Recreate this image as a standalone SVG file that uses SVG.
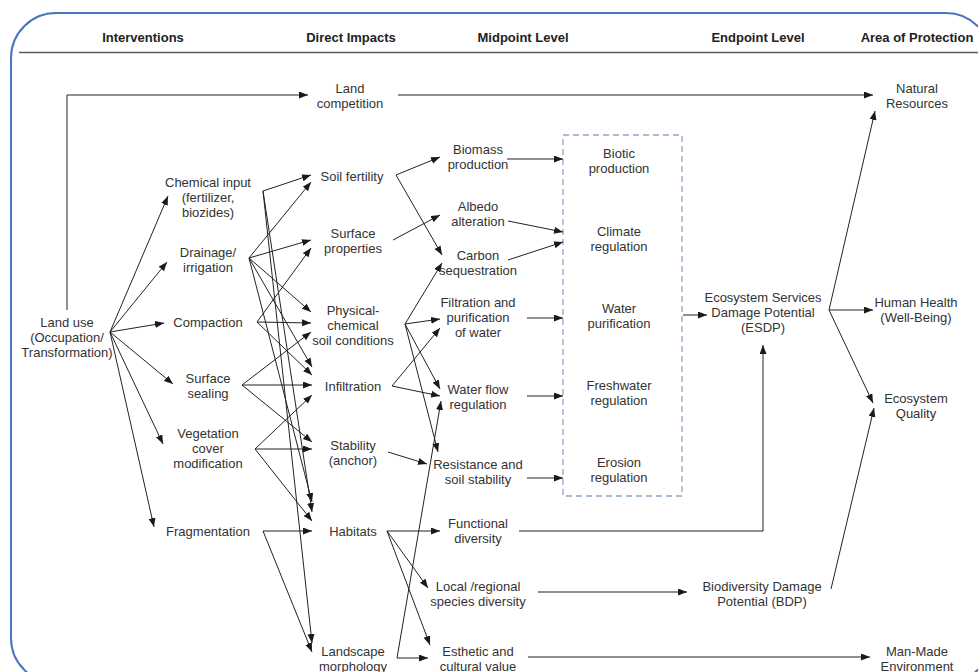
<svg xmlns="http://www.w3.org/2000/svg" width="978" height="672" viewBox="0 0 978 672">
  <defs>
    <marker id="arr" markerUnits="userSpaceOnUse" markerWidth="10" markerHeight="8" refX="9" refY="3.5" orient="auto">
      <path d="M0,0 L9,3.5 L0,7 z" fill="#1a1a1a"/>
    </marker>
    <style>
      text { font-family: "Liberation Sans", Arial, sans-serif; font-size: 13px; fill: #333; text-anchor: middle; }
      .hd { font-weight: bold; fill: #222; }
      .c { fill: none; stroke: #222; stroke-width: 1; marker-end: url(#arr); }
      .p { fill: none; stroke: #222; stroke-width: 1; }
    </style>
  </defs>

  <rect x="0" y="0" width="978" height="672" fill="#fff"/>

  <!-- outer frame and column header -->
  <rect x="11" y="13" width="980" height="670" rx="45" ry="45" fill="none" stroke="#4c72c2" stroke-width="2"/>
  <line x1="19" y1="52.5" x2="978" y2="52.5" stroke="#5a5a5a" stroke-width="1.6"/>
  <g id="headers">
    <text class="hd" x="143" y="42">Interventions</text>
    <text class="hd" x="351" y="42">Direct Impacts</text>
    <text class="hd" x="523" y="42">Midpoint Level</text>
    <text class="hd" x="758" y="42">Endpoint Level</text>
    <text class="hd" x="917" y="42">Area of Protection</text>
  </g>

  <!-- ecosystem services group box -->
  <rect id="es-box" x="563" y="135" width="119" height="361" fill="none" stroke="#8ea6c4" stroke-width="1.3" stroke-dasharray="6 4"/>

  <g id="connectors">
    <!-- land use -->
    <path class="c" d="M67,310 V95 H308"/>
    <path class="c" d="M398,95 H873"/>
    <path class="c" d="M110,332 L168,196"/>
    <path class="c" d="M110,332 L167,262"/>
    <path class="c" d="M110,332 L164,323"/>
    <path class="c" d="M110,332 L173,384"/>
    <path class="c" d="M110,332 L163,444"/>
    <path class="c" d="M110,332 L154,527"/>
    <!-- interventions to direct impacts -->
    <path class="c" d="M263,191 L311,175"/>
    <path class="c" d="M263,191 L312,512"/>
    <path class="c" d="M263,191 L312,643"/>
    <path class="c" d="M249,258 L311,182"/>
    <path class="c" d="M249,258 L311,240"/>
    <path class="c" d="M249,258 L311,312"/>
    <path class="c" d="M249,258 L312,367"/>
    <path class="c" d="M249,258 L312,502"/>
    <path class="c" d="M257,322 L311,248"/>
    <path class="c" d="M257,322 L311,323"/>
    <path class="c" d="M257,322 L312,375"/>
    <path class="c" d="M242,385 L311,332"/>
    <path class="c" d="M242,385 L312,385"/>
    <path class="c" d="M242,385 L312,442"/>
    <path class="c" d="M255,449 L312,395"/>
    <path class="c" d="M255,449 L312,449"/>
    <path class="c" d="M255,449 L312,521"/>
    <path class="c" d="M263,531 L312,531"/>
    <path class="c" d="M263,531 L312,652"/>
    <!-- direct impacts to midpoint -->
    <path class="c" d="M396,175 L440,157"/>
    <path class="c" d="M396,175 L442,255"/>
    <path class="c" d="M393,240 L440,215"/>
    <path class="c" d="M405,324 L442,263"/>
    <path class="c" d="M405,324 L440,319"/>
    <path class="c" d="M405,324 L440,389"/>
    <path class="c" d="M405,324 L438,452"/>
    <path class="c" d="M392,386 L440,328"/>
    <path class="c" d="M392,386 L440,396"/>
    <path class="c" d="M388,452 L427,464"/>
    <path class="c" d="M387,531 L440,531"/>
    <path class="c" d="M387,531 L428,588"/>
    <path class="c" d="M387,531 L430,645"/>
    <path class="c" d="M397,658 L441,401"/>
    <path class="c" d="M397,658 L428,658"/>
    <!-- midpoint to endpoint -->
    <path class="c" d="M507,159 H563"/>
    <path class="c" d="M508,221 L563,232"/>
    <path class="c" d="M508,260 L563,242"/>
    <path class="c" d="M527,318 H563"/>
    <path class="c" d="M527,396 H563"/>
    <path class="c" d="M527,478 H563"/>
    <path class="c" d="M519,531 H763 V345"/>
    <path class="c" d="M538,592 H687"/>
    <path class="c" d="M528,657 H870"/>
    <path class="c" d="M683,315 H707"/>
    <!-- endpoint to area of protection -->
    <path class="c" d="M829,310 H873"/>
    <path class="c" d="M829,310 L875,111"/>
    <path class="c" d="M829,310 L873,403"/>
    <path class="c" d="M831,589 L874,408"/>
  </g>

  <!-- interventions -->
  <g id="land-use"><text x="67" y="327">Land use</text><text x="67" y="342">(Occupation/</text><text x="67" y="357">Transformation)</text></g>
  <g id="chemical-input"><text x="208" y="186.5">Chemical input</text><text x="208" y="201.5">(fertilizer,</text><text x="208" y="216.5">biozides)</text></g>
  <g id="drainage"><text x="208" y="256.5">Drainage/</text><text x="208" y="271.5">irrigation</text></g>
  <g id="compaction"><text x="208" y="326.5">Compaction</text></g>
  <g id="surface-sealing"><text x="208" y="382.5">Surface</text><text x="208" y="397.5">sealing</text></g>
  <g id="vegetation"><text x="208" y="437.5">Vegetation</text><text x="208" y="452.5">cover</text><text x="208" y="467.5">modification</text></g>
  <g id="fragmentation"><text x="208" y="535.5">Fragmentation</text></g>

  <!-- direct impacts -->
  <g id="land-competition"><text x="350" y="92.5">Land</text><text x="350" y="107.5">competition</text></g>
  <g id="soil-fertility"><text x="352" y="180.5">Soil fertility</text></g>
  <g id="surface-properties"><text x="353" y="237.5">Surface</text><text x="353" y="252.5">properties</text></g>
  <g id="physical-chemical"><text x="353" y="314.5">Physical-</text><text x="353" y="329.5">chemical</text><text x="353" y="344.5">soil conditions</text></g>
  <g id="infiltration"><text x="353" y="390.5">Infiltration</text></g>
  <g id="stability"><text x="353" y="449.5">Stability</text><text x="353" y="464.5">(anchor)</text></g>
  <g id="habitats"><text x="353" y="535.5">Habitats</text></g>
  <g id="landscape"><text x="353" y="655.5">Landscape</text><text x="353" y="670.5">morphology</text></g>

  <!-- midpoint level -->
  <g id="biomass"><text x="478" y="153.5">Biomass</text><text x="478" y="168.5">production</text></g>
  <g id="albedo"><text x="478" y="210.5">Albedo</text><text x="478" y="225.5">alteration</text></g>
  <g id="carbon"><text x="478" y="259.5">Carbon</text><text x="478" y="274.5">sequestration</text></g>
  <g id="filtration"><text x="478" y="306.5">Filtration and</text><text x="478" y="321.5">purification</text><text x="478" y="336.5">of water</text></g>
  <g id="water-flow"><text x="478" y="393.5">Water flow</text><text x="478" y="408.5">regulation</text></g>
  <g id="resistance"><text x="478" y="468.5">Resistance and</text><text x="478" y="483.5">soil stability</text></g>
  <g id="functional-diversity"><text x="478" y="527.5">Functional</text><text x="478" y="542.5">diversity</text></g>
  <g id="species-diversity"><text x="478" y="590.5">Local /regional</text><text x="478" y="605.5">species diversity</text></g>
  <g id="esthetic"><text x="478" y="655.5">Esthetic and</text><text x="478" y="670.5">cultural value</text></g>

  <!-- ecosystem services -->
  <g id="biotic-production"><text x="619" y="157.5">Biotic</text><text x="619" y="172.5">production</text></g>
  <g id="climate-regulation"><text x="619" y="235.5">Climate</text><text x="619" y="250.5">regulation</text></g>
  <g id="water-purification"><text x="619" y="312.5">Water</text><text x="619" y="327.5">purification</text></g>
  <g id="freshwater-regulation"><text x="619" y="389.5">Freshwater</text><text x="619" y="404.5">regulation</text></g>
  <g id="erosion-regulation"><text x="619" y="466.5">Erosion</text><text x="619" y="481.5">regulation</text></g>

  <!-- endpoint level -->
  <g id="esdp"><text x="763" y="301.5">Ecosystem Services</text><text x="763" y="316.5">Damage Potential</text><text x="763" y="331.5">(ESDP)</text></g>
  <g id="bdp"><text x="762" y="590.5">Biodiversity Damage</text><text x="762" y="605.5">Potential (BDP)</text></g>

  <!-- areas of protection -->
  <g id="natural-resources"><text x="917" y="92.5">Natural</text><text x="917" y="107.5">Resources</text></g>
  <g id="human-health"><text x="916" y="306.5">Human Health</text><text x="916" y="321.5">(Well-Being)</text></g>
  <g id="ecosystem-quality"><text x="916" y="402.5">Ecosystem</text><text x="916" y="417.5">Quality</text></g>
  <g id="man-made"><text x="917" y="655.5">Man-Made</text><text x="917" y="670.5">Environment</text></g>
</svg>
